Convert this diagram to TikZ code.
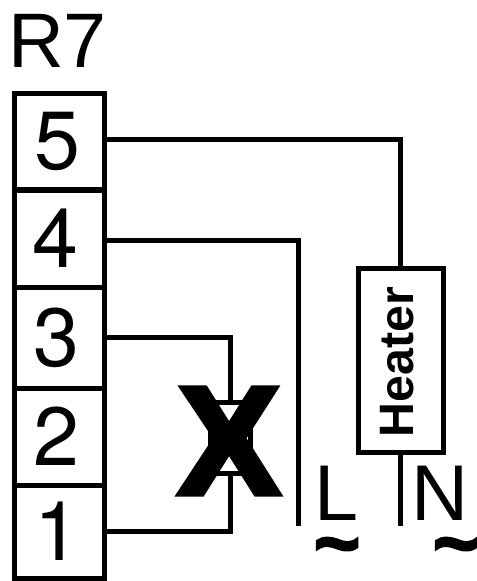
\documentclass[tikz,border=0pt]{standalone}
\usepackage{fontspec}
\setmainfont{Liberation Sans}
\newfontfamily\heavyfont[FakeBold=3]{Liberation Sans Bold}
\newfontfamily\digitfont{TeX Gyre Heros}
\usetikzlibrary{positioning}
\tikzset{
  terminal/.style={draw, line width=0.1cm, minimum width=1.8cm, inner sep=0pt, outer sep=0pt, font=\fontsize{47}{47}\digitfont},
  wire/.style={line width=0.1cm},
  bigtext/.style={inner sep=0pt, outer sep=0pt, font=\fontsize{45}{45}\selectfont},
  tilde/.style={inner sep=0pt, outer sep=0pt, font=\fontsize{45}{45}\heavyfont}
}
\begin{document}
\begin{tikzpicture}[x=0.2mm, y=-0.2mm]
\useasboundingbox (0,0) rectangle (477,581);

\node[bigtext] (title) at (57.5,41) {\fontsize{44}{44}\selectfont R7};

\node[terminal, minimum height=1.92cm] (T5) at (59.5,142) {\raisebox{0.06cm}{\hspace{-0.08cm}5}};
\node[terminal, minimum height=1.94cm] (T4) at (59.5,238.5) {\raisebox{0.02cm}{\hspace{-0.18cm}4}};
\node[terminal, minimum height=2.02cm] (T3) at (59.5,337.5) {\hspace{-0.12cm}3};
\node[terminal, minimum height=1.94cm] (T2) at (59.5,436.5) {\raisebox{0.01cm}{\hspace{-0.14cm}2}};
\node[terminal, minimum height=1.86cm] (T1) at (59.5,531.5) {\raisebox{-0.07cm}{\hspace{-0.1cm}1}};

\node[draw, line width=0.1cm, minimum width=1.7cm, minimum height=3.68cm, inner sep=0pt, outer sep=0pt] (Heater) at (400.5,360) {};
\node[rotate=90, inner sep=0pt, font=\fontsize{27.5}{27}\selectfont\bfseries] (HeaterText) at (397.5,362) {Heater};
\node[draw, line width=0.1cm, minimum width=0.8cm, minimum height=1.42cm, inner sep=0pt, outer sep=0pt] (Fuse) at (230.5,437.5) {};

\coordinate (Lend) at (298,525.5);
\coordinate (Nend) at (Heater.south |- Lend);

\draw[wire] ([yshift=0.06cm]T5.east) -| (Heater.north);
\draw[wire] ([yshift=-0.03cm]T4.east) -| (Lend);
\draw[wire] (T3.east) -| (Fuse.north);
\draw[wire] (T1.east) -| (Fuse.south);
\draw[wire] (Heater.south) -- (Nend);

\node[inner sep=0pt, outer sep=0pt, font=\fontsize{88}{88}\heavyfont] (Cross) at (229,441) {X};

\node[bigtext] (L) at (336,493) {L};
\node[bigtext] (N) at (440,493) {N};
\node[tilde] (TL) at (337,554) {\textasciitilde};
\node[tilde] (TN) at (456,554) {\textasciitilde};
\end{tikzpicture}
\end{document}
